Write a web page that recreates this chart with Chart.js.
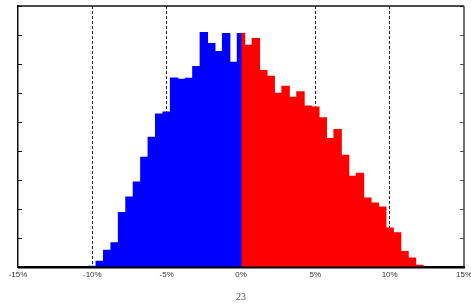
<!DOCTYPE HTML><html>
<head>
  <meta name="viewport" content="width=device-width, initial-scale=1">
  <script src="https://cdn.jsdelivr.net/npm/chart.js"></script>
  <style>
    html, body { margin: 0; padding: 0; background: #fff; overflow: hidden; }
    #wrap { width: 480px; height: 304px; }
  </style>
</head>
<body>
  <div id="wrap"><canvas id="histChart" width="480" height="304"></canvas></div>
<script>
  // bin centres, in percent (bins are 0.5% wide)
  const binCenters = [-10, -9.5, -9, -8.5, -8, -7.5, -7, -6.5, -6, -5.5, -5, -4.5, -4, -3.5, -3, -2.5, -2, -1.5, -1, -0.5, 0,
                      0.5, 1, 1.5, 2, 2.5, 3, 3.5, 4, 4.5, 5, 5.5, 6, 6.5, 7, 7.5, 8, 8.5, 9, 9.5, 10, 10.5, 11, 11.5, 12];
  // negative side, bins -10% .. 0%
  const negValues = [0.04, 0.21, 0.59, 0.85, 1.89, 2.42, 2.94, 3.79, 4.48, 5.28, 5.35, 6.52, 6.48, 6.51, 6.92, 8.09, 7.71, 7.43, 8.05, 7.06, 8.05];
  // positive side, bins 0% .. 12%
  const posValues = [8.05, 7.65, 7.88, 6.78, 6.58, 6.0, 6.24, 5.86, 6.05, 5.56, 5.52, 5.15, 4.44, 4.75, 3.86, 3.14, 3.24, 2.39, 2.22, 2.08, 1.36, 1.19, 0.55, 0.32, 0.07];
  const xTicks = [-15, -10, -5, 0, 5, 10, 15];
  const dashedAt = [-10, -5, 5, 10];

  const zeroIdx = binCenters.indexOf(0);
  const negData = binCenters.map((c, i) => ({x: c, y: c <= 0 ? negValues[i] : null}));
  const posData = binCenters.map((c, i) => ({x: c, y: c >= 0 ? posValues[i - zeroIdx] : null}));

  // inward tick marks on both sides plus the frame lines
  const frameTicks = {
    id: 'frameTicks',
    afterDatasetsDraw(chart) {
      const {ctx, chartArea: a} = chart;
      const y = chart.scales.y;
      ctx.save();
      ctx.lineWidth = 1;
      y.ticks.forEach((t) => {
        const py = Math.round(y.getPixelForValue(t.value)) + 0.5;
        ctx.strokeStyle = '#111';
        ctx.beginPath(); ctx.moveTo(a.left, py); ctx.lineTo(a.left + 4, py); ctx.stroke();
        ctx.strokeStyle = '#555';
        ctx.beginPath(); ctx.moveTo(a.right, py); ctx.lineTo(a.right - 4, py); ctx.stroke();
      });
      ctx.lineWidth = 1.5;
      ctx.strokeStyle = '#111';
      ctx.beginPath(); ctx.moveTo(a.left, a.top); ctx.lineTo(a.right, a.top); ctx.stroke();
      ctx.strokeStyle = '#444';
      ctx.beginPath(); ctx.moveTo(a.right, a.top); ctx.lineTo(a.right, a.bottom); ctx.stroke();
      ctx.lineWidth = 2;
      ctx.strokeStyle = '#000';
      ctx.beginPath(); ctx.moveTo(a.left, a.bottom); ctx.lineTo(a.right + 1, a.bottom); ctx.stroke();
      ctx.restore();
    }
  };

  const ctx = document.getElementById('histChart').getContext('2d');
  const histChart = new Chart(ctx, {
    type: 'bar',
    data: {
      datasets: [{
        label: 'negative',
        data: negData,
        backgroundColor: '#0000ff',
        borderWidth: 0,
        inflateAmount: 0.5,
        skipNull: true,
        categoryPercentage: 1.0,
        barPercentage: 1.0
      }, {
        label: 'positive',
        data: posData,
        backgroundColor: '#ff0000',
        borderWidth: 0,
        inflateAmount: 0.5,
        skipNull: true,
        categoryPercentage: 1.0,
        barPercentage: 1.0
      }]
    },
    options: {
      responsive: false,
      animation: false,
      devicePixelRatio: 1,
      layout: { padding: { left: 18, right: 16, top: 6, bottom: 0 } },
      plugins: {
        legend: { display: false },
        tooltip: { enabled: false },
        title: {
          display: true,
          text: '23',
          position: 'bottom',
          color: '#555',
          font: { family: 'Liberation Serif', size: 10, weight: 'normal' },
          padding: { top: 8, bottom: 1 }
        }
      },
      scales: {
        x: {
          type: 'linear',
          min: -15,
          max: 15,
          offset: false,
          afterBuildTicks: (scale) => { scale.ticks = xTicks.map((v) => ({value: v})); },
          ticks: {
            color: '#333',
            padding: 3,
            maxRotation: 0,
            font: { family: 'Liberation Sans', size: 8 },
            callback: (v) => v + '%'
          },
          grid: {
            offset: false,
            drawTicks: false,
            lineWidth: 1,
            color: (c) => dashedAt.includes(c.tick && c.tick.value) ? '#222' : 'rgba(0,0,0,0)'
          },
          border: { display: true, color: '#000', width: 2, dash: [3, 2] }
        },
        y: {
          min: 0,
          max: 9,
          ticks: { display: false, stepSize: 1 },
          grid: { display: false, drawTicks: false },
          border: { display: true, color: '#111', width: 1.5 }
        }
      }
    },
    plugins: [frameTicks]
  });
</script>
</body>
</html>
